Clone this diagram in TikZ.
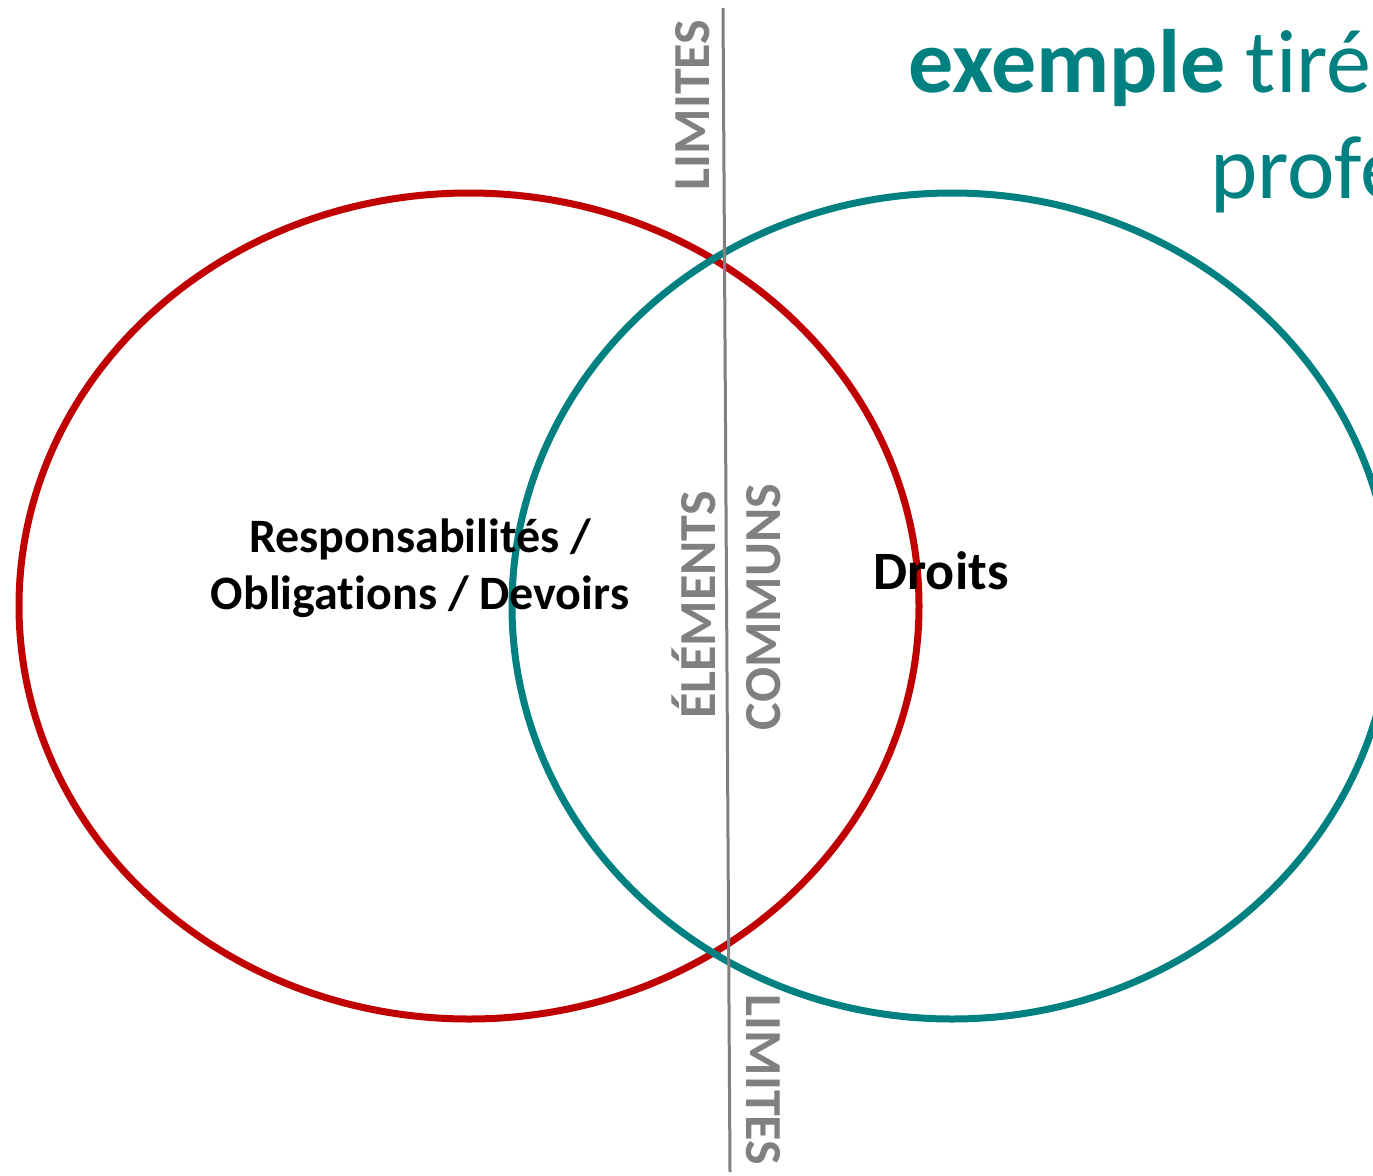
\documentclass[tikz,border=0pt]{standalone}
\usepackage{fontspec}
\setmainfont{Carlito}[Ligatures=NoCommon]
\usetikzlibrary{shapes.geometric}
\definecolor{teal1}{RGB}{0,128,128}
\definecolor{red1}{RGB}{192,0,0}
\definecolor{gray1}{RGB}{128,128,128}
\tikzset{
  venn/.style={ellipse, draw, line width=7pt, inner sep=0pt, outer sep=0pt},
  glabel/.style={text=gray1, font=\fontsize{52}{60}\selectfont\bfseries, inner sep=0pt},
  blabel/.style={text=black, font=\fontsize{48}{57}\selectfont\bfseries, inner sep=0pt, align=center},
}
\begin{document}
\begin{tikzpicture}[x=1pt,y=-1pt]
\useasboundingbox (0,0) rectangle (1373,1175);
\clip (0,0) rectangle (1373,1175);
\fill[white] (0,0) rectangle (1373,1175);
\node[venn, draw=red1, minimum width=900pt, minimum height=826pt] (red) at (469,606) {};
\node[venn, draw=teal1, minimum width=880pt, minimum height=826pt] (teal) at (952,606) {};
\coordinate (ltop) at (723,8);
\coordinate (lbot) at (730,1172);
\draw[gray1, line width=3pt] (ltop) -- (lbot);
\node[glabel, rotate=90] (lim1) at (693,105) {LIMITES};
\node[glabel, rotate=90] (elem) at (694,605) {ÉLÉMENTS};
\node[glabel, rotate=90] (comm) at (764,607) {COMMUNS};
\node[glabel, rotate=-90] (lim2) at (763,1080) {LIMITES};
\node[blabel] (resp) at (420,568) {Responsabilités /\\Obligations / Devoirs};
\node[blabel, font=\fontsize{54}{60}\selectfont\bfseries] (droits) at (941,571) {Droits};
\node[anchor=base west, text=teal1, inner sep=0pt, font=\fontsize{90}{106}\selectfont] (t1) at (908,92) {\textbf{exemple} tiré};
\node[anchor=base west, text=teal1, inner sep=0pt, font=\fontsize{90}{106}\selectfont] (t2) at (1210,198) {profe};
\end{tikzpicture}
\end{document}
